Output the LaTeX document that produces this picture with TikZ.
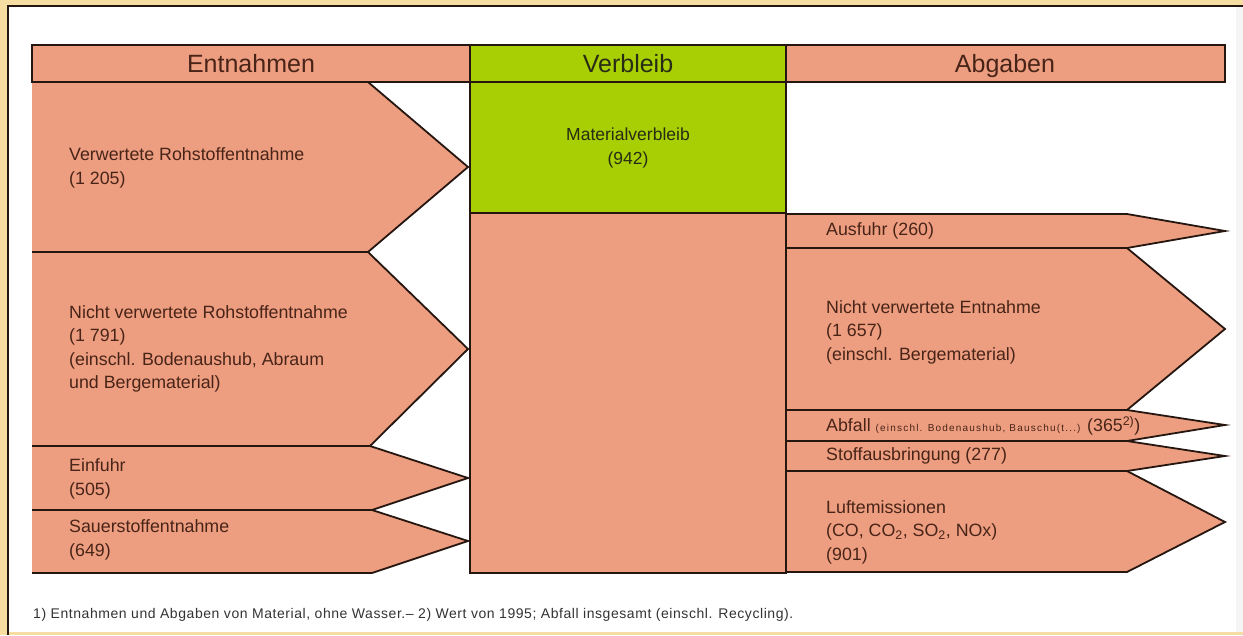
\documentclass[tikz,border=0pt]{standalone}
\usepackage{fontspec}
\setmainfont{Liberation Sans}
\definecolor{salmon}{RGB}{238,158,128}
\definecolor{lime}{RGB}{168,206,4}
\definecolor{framec}{RGB}{246,221,162}
\definecolor{edge}{RGB}{38,22,16}
\definecolor{txt}{RGB}{72,36,24}
\definecolor{gtxt}{RGB}{40,44,20}
\begin{document}
\begin{tikzpicture}[x=1pt,y=-1pt,line join=miter,
  salfill/.style={fill=salmon},
  greenfill/.style={fill=lime},
  outline/.style={draw=edge,line width=1.8pt},
  lbl/.style={text=txt,font=\fontsize{17.8}{23.5}\selectfont,align=left,inner sep=0pt,anchor=west},
  head/.style={text=txt,font=\fontsize{25}{28}\selectfont,inner sep=0pt,anchor=base}]
\useasboundingbox (0,0) rectangle (1243,635);
% frame
\fill[framec] (0,0) rectangle (1243,635);
\fill[white] (8,6) rectangle (1243,632);
\fill[black!4] (1236,6) rectangle (1243,632);
\draw[edge,line width=1.2pt] (8,635) -- (8,6) -- (1243,6);

% header
\path[salfill,outline] (32,45) rectangle (470,82);
\path[greenfill,outline] (470,45) rectangle (786,82);
\path[salfill,outline] (786,45) rectangle (1225,82);
\node[head] (hE) at (251,72) {Entnahmen};
\node[head,text=gtxt] (hV) at (628,72) {Verbleib};
\node[head] (hA) at (1005,72) {Abgaben};

% Verbleib column
\path[greenfill,outline] (470,82) rectangle (786,213);
\path[salfill,outline] (470,213) rectangle (786,573);
\node[text=gtxt,font=\fontsize{17.5}{23.5}\selectfont,align=center,inner sep=0pt] (mv) at (628,148) {Materialverbleib\\(942)};

% left arrows
\fill[salfill] (32,82) -- (368,82) -- (468,167) -- (368,252) -- (32,252) -- cycle;
\fill[salfill] (32,252) -- (368,252) -- (468,349) -- (370,446) -- (32,446) -- cycle;
\fill[salfill] (32,446) -- (370,446) -- (468,478) -- (372,510) -- (32,510) -- cycle;
\fill[salfill] (32,510) -- (372,510) -- (468,541) -- (372,573) -- (32,573) -- cycle;
\draw[outline] (32,82) -- (368,82) -- (468,167) -- (368,252) -- (32,252);
\draw[outline] (368,252) -- (468,349) -- (370,446) -- (32,446);
\draw[outline] (370,446) -- (468,478) -- (372,510) -- (32,510);
\draw[outline] (372,510) -- (468,541) -- (372,573) -- (32,573);

\node[lbl] (l1) at (69,168) {Verwertete Rohstoffentnahme\\(1 205)};
\node[lbl] (l2) at (69,349) {Nicht verwertete Rohstoffentnahme\\(1 791)\\(einschl. Bodenaushub, Abraum\\und Bergematerial)};
\node[lbl] (l3) at (69,479) {Einfuhr\\(505)};
\node[lbl] (l4) at (69,540) {Sauerstoffentnahme\\(649)};

% right arrows
\fill[salfill] (786,214) -- (1127,214) -- (1225,231) -- (1127,248) -- (786,248) -- cycle;
\fill[salfill] (786,248) -- (1127,248) -- (1225,329) -- (1127,410) -- (786,410) -- cycle;
\fill[salfill] (786,410) -- (1127,410) -- (1225,425) -- (1127,441) -- (786,441) -- cycle;
\fill[salfill] (786,441) -- (1127,441) -- (1225,456) -- (1127,471) -- (786,471) -- cycle;
\fill[salfill] (786,471) -- (1127,471) -- (1225,522) -- (1127,572) -- (786,572) -- cycle;
\draw[outline] (786,214) -- (1127,214) -- (1225,231) -- (1127,248) -- (786,248);
\draw[outline] (1127,248) -- (1225,329) -- (1127,410) -- (786,410);
\draw[outline] (1127,410) -- (1225,425) -- (1127,441) -- (786,441);
\draw[outline] (1127,441) -- (1225,456) -- (1127,471) -- (786,471);
\draw[outline] (1127,471) -- (1225,522) -- (1127,572) -- (786,572);
\draw[outline] (786,213) -- (786,573);

\node[lbl] (r1) at (826,231) {Ausfuhr (260)};
\node[lbl] (r2) at (826,332) {Nicht verwertete Entnahme\\(1 657)\\(einschl. Bergematerial)};
\node[lbl] (r3) at (826,426) {Abfall {\fontsize{10}{12}\selectfont\addfontfeature{LetterSpace=12}(einschl. Bodenaushub, Bauschu(t...)} (365\textsuperscript{2)})};
\node[lbl] (r4) at (826,456) {Stoffausbringung (277)};
\node[lbl] (r5) at (826,532) {Luftemissionen\\(CO, CO\textsubscript{2}, SO\textsubscript{2}, NOx)\\(901)};

% footnote
\node[text=black!80,font=\fontsize{14}{16}\selectfont\addfontfeature{LetterSpace=4},inner sep=0pt,anchor=base west] (fn) at (33,618) {1) Entnahmen und Abgaben von Material, ohne Wasser.– 2) Wert von 1995; Abfall insgesamt (einschl. Recycling).};
\end{tikzpicture}
\end{document}
